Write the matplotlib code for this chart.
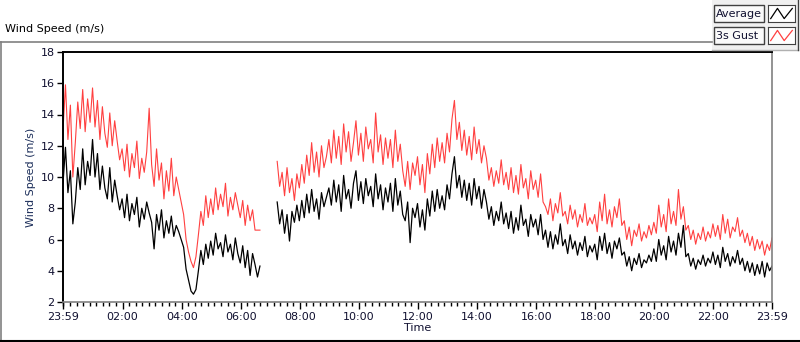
import numpy as np
import matplotlib
matplotlib.use("Agg")
import matplotlib.pyplot as plt
from matplotlib.lines import Line2D
from matplotlib.patches import Rectangle

nan = np.nan

# 5-minute samples starting at 23:59 (hours since start = i * 5 / 60)
gust = [
    13.0, 15.9, 12.4, 14.6, 10.0, 12.2, 14.8, 13.1, 15.6, 12.9, 15.0, 13.5,
    15.7, 13.2, 14.9, 12.4, 14.5, 12.8, 11.9, 14.1, 12.0, 13.6, 12.3, 11.1,
    11.8, 10.4, 12.1, 10.0, 11.5, 10.6, 12.3, 9.9, 11.2, 10.3, 11.6, 14.4,
    10.8, 9.4, 11.8, 9.8, 10.9, 8.6, 10.4, 9.1, 11.2, 8.8, 10.0, 9.2,
    8.4, 7.6, 6.0, 5.2, 4.6, 4.2, 4.9, 6.3, 7.8, 6.9, 8.8, 7.4,
    8.6, 7.6, 9.3, 7.9, 8.9, 8.1, 9.6, 7.5, 8.7, 7.9, 9.0, 8.2,
    7.4, 8.5, 6.9, 8.2, 7.2, 7.9, 6.6, 6.6, 6.6, nan, nan, nan,
    nan, nan, nan, 11.0, 9.4, 10.3, 8.8, 10.6, 9.0, 9.9, 8.5, 10.2,
    9.3, 10.8, 9.6, 11.4, 10.1, 12.2, 10.3, 11.6, 10.0, 12.0, 10.6, 11.3,
    12.4, 10.9, 13.0, 11.2, 12.6, 10.8, 13.4, 11.6, 12.9, 11.0, 12.2, 13.6,
    11.4, 12.8, 11.0, 13.2, 11.8, 12.4, 10.9, 14.1, 11.6, 12.7, 10.8, 12.5,
    11.2, 12.4, 10.6, 13.0, 11.0, 12.1, 10.4, 9.4, 11.0, 9.2, 10.9, 10.1,
    11.3, 9.5, 10.8, 9.0, 11.5, 10.2, 12.1, 10.6, 12.5, 11.0, 12.2, 10.9,
    12.8, 11.6, 13.7, 14.9, 12.4, 13.5, 11.7, 13.0, 11.4, 12.6, 11.1, 13.2,
    11.5, 12.4, 10.9, 12.0, 11.2, 9.8, 10.6, 9.4, 10.4, 9.6, 11.1, 9.5,
    10.3, 9.2, 10.6, 9.0, 10.1, 8.9, 10.8, 9.3, 9.9, 8.6, 10.4, 9.2,
    9.8, 8.7, 10.2, 8.4, 8.1, 7.6, 8.6, 7.2, 8.3, 7.7, 9.0, 7.5,
    7.8, 7.0, 8.2, 7.3, 7.9, 6.8, 7.6, 7.1, 8.3, 6.9, 7.4, 7.0,
    7.6, 6.5, 8.4, 7.2, 8.9, 7.0, 7.9, 6.8, 8.1, 7.4, 8.6, 6.9,
    7.2, 6.0, 6.8, 5.6, 6.6, 6.2, 7.0, 5.9, 6.5, 6.1, 6.9, 6.3,
    7.1, 6.4, 8.2, 6.8, 7.6, 6.5, 8.6, 7.0, 7.8, 6.9, 9.2, 7.3,
    8.1, 6.6, 6.9, 6.0, 6.6, 5.7, 6.4, 6.0, 6.8, 5.9, 6.5, 6.1,
    7.0, 6.2, 6.9, 6.0, 7.6, 6.4, 7.3, 6.1, 6.8, 6.5, 7.4, 6.2,
    6.6, 5.8, 6.4, 5.6, 6.2, 5.3, 6.0, 5.4, 5.9, 5.0, 5.7, 5.3,
    6.1,
]

average = [
    9.6, 11.9, 9.0, 10.4, 7.0, 8.4, 10.6, 9.2, 11.8, 9.5, 11.0, 10.1,
    12.4, 10.0, 11.5, 9.2, 10.7, 9.3, 8.6, 10.6, 8.4, 9.8, 8.8, 7.9,
    8.6, 7.4, 8.9, 7.2, 8.3, 7.6, 8.7, 6.8, 8.0, 7.3, 8.4, 7.7,
    7.1, 5.4, 7.6, 6.6, 7.9, 6.1, 7.2, 6.4, 7.5, 6.2, 6.9, 6.5,
    6.0, 5.5, 4.1, 3.4, 2.7, 2.5, 2.8, 4.0, 5.3, 4.4, 5.7, 4.8,
    5.9, 5.0, 6.4, 5.4, 5.8, 4.9, 6.3, 5.2, 5.7, 4.7, 6.1, 5.1,
    4.5, 5.6, 4.2, 5.3, 3.7, 5.1, 4.4, 3.6, 4.3, nan, nan, nan,
    nan, nan, nan, 8.4, 7.0, 7.9, 6.4, 7.6, 5.9, 7.8, 7.1, 8.2,
    7.2, 8.5, 7.4, 8.9, 7.7, 9.2, 7.8, 8.6, 7.3, 9.0, 8.1, 8.7,
    9.3, 8.2, 9.8, 8.4, 9.5, 7.8, 10.1, 8.6, 9.2, 8.0, 9.6, 10.4,
    8.5, 9.7, 8.3, 9.9, 8.8, 9.4, 8.1, 10.2, 8.6, 9.5, 7.9, 9.3,
    8.4, 9.6, 7.8, 9.9, 8.2, 9.1, 7.6, 7.2, 8.4, 5.8, 8.0, 7.4,
    8.3, 6.8, 7.9, 6.6, 8.6, 7.5, 9.1, 7.8, 9.2, 8.0, 8.8, 7.9,
    9.5, 8.6, 10.2, 11.3, 9.3, 10.1, 8.7, 9.8, 8.5, 9.6, 8.2, 9.9,
    8.6, 9.4, 8.0, 9.2, 8.4, 7.3, 8.1, 6.9, 7.8, 7.2, 8.4, 7.0,
    7.7, 6.7, 7.8, 6.4, 7.4, 6.6, 8.2, 6.9, 7.3, 6.2, 7.6, 6.8,
    7.3, 6.3, 7.6, 6.0, 6.6, 5.5, 6.5, 5.4, 6.3, 5.7, 7.0, 5.6,
    6.0, 5.1, 6.3, 5.4, 5.9, 5.0, 5.8, 5.3, 6.2, 4.9, 5.6, 5.2,
    5.7, 4.7, 6.2, 5.3, 6.4, 5.1, 5.8, 4.8, 5.9, 5.4, 6.1, 5.0,
    5.2, 4.3, 4.9, 4.0, 4.8, 4.4, 5.1, 4.2, 4.7, 4.5, 5.0, 4.6,
    5.4, 4.6, 6.0, 5.0, 5.6, 4.7, 6.2, 5.2, 5.9, 5.0, 6.4, 5.5,
    6.9, 4.9, 5.1, 4.3, 4.8, 4.1, 4.7, 4.4, 5.0, 4.3, 4.8, 4.5,
    5.2, 4.4, 5.0, 4.2, 5.5, 4.6, 5.1, 4.3, 4.9, 4.5, 5.3, 4.4,
    4.8, 4.0, 4.6, 3.9, 4.5, 3.7, 4.4, 3.8, 4.6, 3.6, 4.5, 4.0,
    4.3,
]

tick_labels = ["23:59", "02:00", "04:00", "06:00", "08:00", "10:00", "12:00",
               "14:00", "16:00", "18:00", "20:00", "22:00", "23:59"]
y_ticks = [2, 4, 6, 8, 10, 12, 14, 16, 18]

TXT = "#101030"
RED = "#ff4040"


def main():
    hours = np.arange(len(gust)) * 5 / 60.0
    major = [0.0] + [2 * k + 1 / 60.0 for k in range(1, 12)] + [24.0]
    minor = [m for m in np.arange(1 / 60.0 - 2, 24, 2 / 9.0) if 0 < m < 24]

    fig = plt.figure(figsize=(8, 3.42), dpi=100)
    plt.rcParams["font.family"] = ["DejaVu Sans"]

    ax = fig.add_axes([63 / 800, 40 / 342, 709 / 800, 250 / 342])
    ax.plot(hours, gust, color=RED, linewidth=0.8)
    ax.plot(hours, average, color="black", linewidth=0.9)

    ax.set_xlim(0, 24)
    ax.set_ylim(2, 18)
    ax.set_yticks(y_ticks)
    ax.set_xticks(major)
    ax.set_xticklabels(tick_labels)
    ax.set_xticks(minor, minor=True)
    ax.tick_params(axis="both", labelsize=8, labelcolor=TXT, direction="out", width=1)
    ax.tick_params(axis="x", which="major", length=5, pad=2)
    ax.tick_params(axis="x", which="minor", length=3, width=1)
    ax.tick_params(axis="y", length=4, pad=2)
    for side in ("top", "left"):
        ax.spines[side].set_color("black")
        ax.spines[side].set_linewidth(1.4)
    for side in ("right", "bottom"):
        ax.spines[side].set_color("#808080")
        ax.spines[side].set_linewidth(1.2)
    ax.set_xlabel("Time", fontsize=8, color=TXT, labelpad=1)
    ax.set_ylabel("Wind Speed (m/s)", fontsize=8, color="#1c2e5a", labelpad=3)

    # panel frame
    fig.add_artist(Line2D([0, 712 / 800], [1 - 42 / 342] * 2, color="#808080", lw=1.2))
    fig.add_artist(Line2D([1 / 800] * 2, [0, 1 - 42 / 342], color="#808080", lw=1.2))
    fig.add_artist(Line2D([0, 1], [1 / 342] * 2, color="black", lw=1.5))
    fig.text(5 / 800, 1 - 32 / 342, "Wind Speed (m/s)", fontsize=8, color="black", va="baseline")

    # legend block
    fig.add_artist(Rectangle((712 / 800, 1 - 50 / 342), 86 / 800, 50 / 342,
                             facecolor="#f0f0f0", edgecolor="none", zorder=1))
    fig.add_artist(Line2D([712 / 800, 798 / 800], [1 - 50 / 342] * 2, color="#b0b0b0", lw=1, zorder=2))
    fig.add_artist(Line2D([798 / 800] * 2, [1 - 50 / 342, 1], color="#404040", lw=1, zorder=2))
    for row, (name, col) in enumerate([("Average", "black"), ("3s Gust", RED)]):
        top = 5 + row * 22
        fig.add_artist(Rectangle((714 / 800, 1 - (top + 17) / 342), 50 / 800, 17 / 342,
                                 facecolor="#fafafa", edgecolor="#404040", lw=1, zorder=2))
        fig.text(716 / 800, 1 - (top + 9) / 342, name, fontsize=8, color=TXT, va="center", zorder=3)
        icon = fig.add_axes([768 / 800, 1 - (top + 17) / 342, 27 / 800, 17 / 342])
        icon.set_zorder(5)
        icon.plot([0.1, 0.35, 0.6, 0.9], [0.2, 0.8, 0.2, 0.8], color=col, lw=0.9)
        icon.set_xlim(0, 1)
        icon.set_ylim(0, 1)
        icon.set_xticks([])
        icon.set_yticks([])
        icon.set_facecolor("white")
        for s in icon.spines.values():
            s.set_color("#404040")

    fig.savefig("out.png", dpi=100)
    plt.close(fig)


if __name__ == "__main__":
    main()
